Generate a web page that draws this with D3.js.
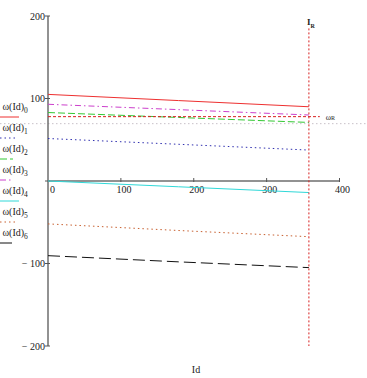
<!DOCTYPE html>
<html>
<head>
<meta charset="utf-8">
<script src="https://cdn.jsdelivr.net/npm/d3@7"></script>
<style>
  body { margin: 0; background: #fff; }
  text { font-family: "Liberation Serif", "DejaVu Serif", serif; }
</style>
</head>
<body>
<svg id="chart" width="367" height="378"></svg>
<script>
// data
let idValues = [0, 179, 358]
let omega0 = [105, 97.5, 90]
let omega1 = [51.5, 44.5, 37.5]
let omega2 = [83, 77, 71]
let omega3 = [93, 86.5, 80]
let omega4 = [0, -7, -14]
let omega5 = [-52, -60, -67.5]
let omega6 = [-90.5, -98, -105]
let seriesNames = ['0', '1', '2', '3', '4', '5', '6']
let xTicks = [0, 100, 200, 300, 400]
let yTicks = [200, 100, 0, -100, -200]
let idR = 358
let omegaR = 78
let greyLevel = 69.5

let allSeries = [omega0, omega1, omega2, omega3, omega4, omega5, omega6]

// styles per series: colour, dash, legend sample length
let styles = [
    {color: '#ee3030', dash: null, len: 19},
    {color: '#3030b0', dash: '1.5,3', len: 16},
    {color: '#33c833', dash: '7,3', len: 13},
    {color: '#cc40cc', dash: '6,3,1.5,3', len: 13},
    {color: '#30d8d8', dash: null, len: 19},
    {color: '#c86030', dash: '1.5,3', len: 15},
    {color: '#111111', dash: '12,5', len: 13}
]

let svg = d3.select('#chart')

let x = d3.scaleLinear().domain([0, 400]).range([48, 339.5])
let y = d3.scaleLinear().domain([-200, 200]).range([346, 16])

// light dotted level line across whole width
svg.append('line')
    .attr('x1', 0).attr('x2', 367)
    .attr('y1', y(greyLevel)).attr('y2', y(greyLevel))
    .attr('stroke', '#c8c0c8')
    .attr('stroke-width', 1)
    .attr('stroke-dasharray', '1.5,2.5')

// y axis
svg.append('line')
    .attr('x1', x(0)).attr('x2', x(0))
    .attr('y1', y(200)).attr('y2', y(-200))
    .attr('stroke', '#6e6e6e')
    .attr('stroke-width', 1.5)

yTicks.forEach(function(t) {
    svg.append('line')
        .attr('x1', x(0) - 3).attr('x2', x(0) + 2)
        .attr('y1', y(t)).attr('y2', y(t))
        .attr('stroke', '#555').attr('stroke-width', 1)
    if (t !== 0) {
        svg.append('text')
            .attr('x', x(0) - 3)
            .attr('y', y(t) + 3.5)
            .attr('text-anchor', 'end')
            .attr('font-size', '10px')
            .attr('fill', '#222')
            .text(t < 0 ? '\u2212 ' + Math.abs(t) : t)
    }
})

// x axis
svg.append('line')
    .attr('x1', x(0)).attr('x2', x(400))
    .attr('y1', y(0)).attr('y2', y(0))
    .attr('stroke', '#6e6e6e')
    .attr('stroke-width', 1.5)

xTicks.forEach(function(t) {
    if (t !== 0) {
        svg.append('line')
            .attr('x1', x(t)).attr('x2', x(t))
            .attr('y1', y(0) - 3).attr('y2', y(0) + 1)
            .attr('stroke', '#555').attr('stroke-width', 1)
    }
    svg.append('text')
        .attr('x', x(t) + (t === 0 ? 4.5 : 3))
        .attr('y', y(0) + 12)
        .attr('text-anchor', 'middle')
        .attr('font-size', '10px')
        .attr('fill', '#222')
        .text(t)
})

// series lines
let line = d3.line()
    .x(function(d, i) { return x(idValues[i]) })
    .y(function(d) { return y(d) })

allSeries.forEach(function(s, i) {
    svg.append('path')
        .datum(s)
        .attr('d', line)
        .attr('fill', 'none')
        .attr('stroke', styles[i].color)
        .attr('stroke-width', 1)
        .attr('stroke-dasharray', styles[i].dash)
})

// omega_R marker
svg.append('line')
    .attr('x1', x(0)).attr('x2', x(373))
    .attr('y1', y(omegaR)).attr('y2', y(omegaR))
    .attr('stroke', '#d82020')
    .attr('stroke-width', 1)
    .attr('stroke-dasharray', '3,2')

let wr = svg.append('text')
    .attr('x', x(381))
    .attr('y', y(omegaR) + 3)
    .attr('font-size', '8px')
    .attr('fill', '#222')
wr.append('tspan').text('\u03c9')
wr.append('tspan').attr('font-size', '6px').text('R')

// I_R marker
svg.append('line')
    .attr('x1', x(idR)).attr('x2', x(idR))
    .attr('y1', y(185)).attr('y2', y(-200))
    .attr('stroke', '#d82020')
    .attr('stroke-width', 1)
    .attr('stroke-dasharray', '2,2')

let ir = svg.append('text')
    .attr('x', x(idR) - 2)
    .attr('y', 25)
    .attr('font-size', '9px')
    .attr('font-weight', 'bold')
    .attr('fill', '#222')
ir.append('tspan').text('I')
ir.append('tspan').attr('font-size', '6px').attr('dy', 3).text('R')

// legend on the left
seriesNames.forEach(function(n, i) {
    let ty = 110 + i * 21
    let t = svg.append('text')
        .attr('x', 2.5)
        .attr('y', ty)
        .attr('font-size', '10px')
        .attr('fill', '#222')
    t.append('tspan').text('\u03c9(Id)')
    t.append('tspan').attr('font-size', '7.5px').attr('dy', 2.5).text(n)

    svg.append('line')
        .attr('x1', 0).attr('x2', styles[i].len)
        .attr('y1', ty + 7).attr('y2', ty + 7)
        .attr('stroke', styles[i].color)
        .attr('stroke-width', 1)
        .attr('stroke-dasharray', styles[i].dash)
})

// x axis title
svg.append('text')
    .attr('x', 196)
    .attr('y', 373)
    .attr('text-anchor', 'middle')
    .attr('font-size', '10px')
    .attr('fill', '#222')
    .text('Id')
</script>
</body>
</html>
